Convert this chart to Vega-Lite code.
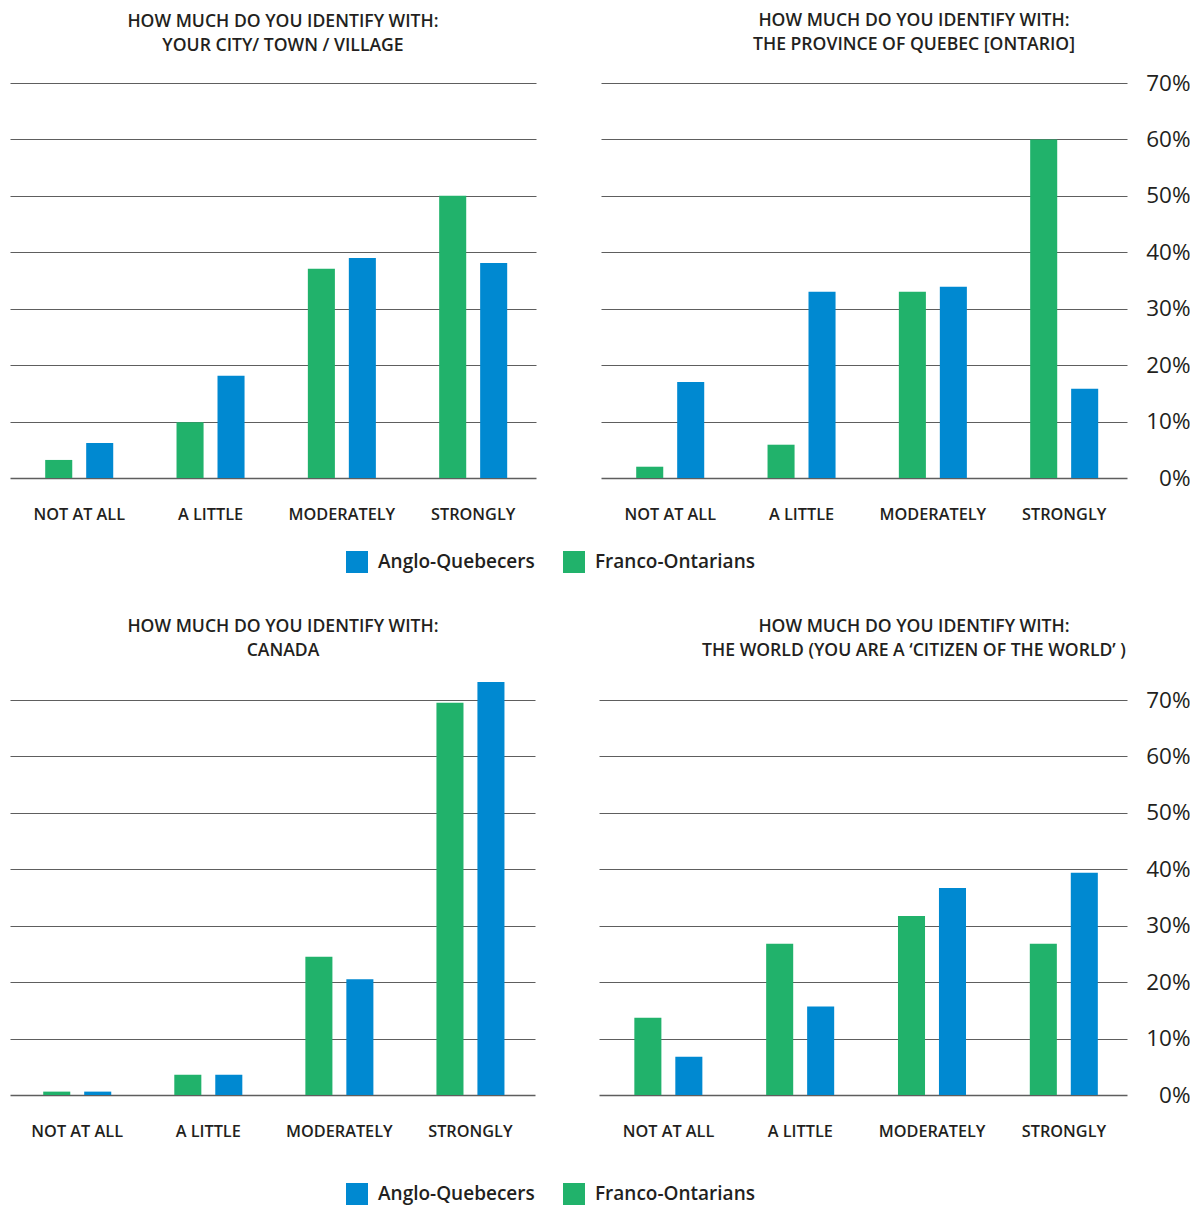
{
  "$schema": "https://vega.github.io/schema/vega-lite/v6.json",
  "background": "white",
  "padding": {"left": 10, "top": 11, "right": 0, "bottom": 0},
  "config": {
    "view": {"stroke": null},
    "font": "Open Sans",
    "title": {"font": "Open Sans", "fontWeight": 600, "fontSize": 17.6, "color": "#231f20", "lineHeight": 24.5, "anchor": "middle", "frame": "group"},
    "axisX": {"labelFont": "Open Sans", "labelFontWeight": 600, "labelFontSize": 16.3, "labelColor": "#231f20", "ticks": false, "domain": false, "labelPadding": 28, "labelAngle": 0, "title": null, "grid": false},
    "bar": {"stroke": null}
  },
  "datasets": {
    "d": [
      {"panel": "city", "level": "NOT AT ALL", "group": "Franco-Ontarians", "value": 3.2},
      {"panel": "city", "level": "NOT AT ALL", "group": "Anglo-Quebecers", "value": 6.2},
      {"panel": "city", "level": "A LITTLE", "group": "Franco-Ontarians", "value": 9.9},
      {"panel": "city", "level": "A LITTLE", "group": "Anglo-Quebecers", "value": 18.1},
      {"panel": "city", "level": "MODERATELY", "group": "Franco-Ontarians", "value": 37.1},
      {"panel": "city", "level": "MODERATELY", "group": "Anglo-Quebecers", "value": 39},
      {"panel": "city", "level": "STRONGLY", "group": "Franco-Ontarians", "value": 50},
      {"panel": "city", "level": "STRONGLY", "group": "Anglo-Quebecers", "value": 38.1},
      {"panel": "province", "level": "NOT AT ALL", "group": "Franco-Ontarians", "value": 2},
      {"panel": "province", "level": "NOT AT ALL", "group": "Anglo-Quebecers", "value": 17},
      {"panel": "province", "level": "A LITTLE", "group": "Franco-Ontarians", "value": 5.9},
      {"panel": "province", "level": "A LITTLE", "group": "Anglo-Quebecers", "value": 33},
      {"panel": "province", "level": "MODERATELY", "group": "Franco-Ontarians", "value": 33},
      {"panel": "province", "level": "MODERATELY", "group": "Anglo-Quebecers", "value": 33.9},
      {"panel": "province", "level": "STRONGLY", "group": "Franco-Ontarians", "value": 60},
      {"panel": "province", "level": "STRONGLY", "group": "Anglo-Quebecers", "value": 15.8},
      {"panel": "canada", "level": "NOT AT ALL", "group": "Franco-Ontarians", "value": 0.6},
      {"panel": "canada", "level": "NOT AT ALL", "group": "Anglo-Quebecers", "value": 0.6},
      {"panel": "canada", "level": "A LITTLE", "group": "Franco-Ontarians", "value": 3.6},
      {"panel": "canada", "level": "A LITTLE", "group": "Anglo-Quebecers", "value": 3.6},
      {"panel": "canada", "level": "MODERATELY", "group": "Franco-Ontarians", "value": 24.5},
      {"panel": "canada", "level": "MODERATELY", "group": "Anglo-Quebecers", "value": 20.5},
      {"panel": "canada", "level": "STRONGLY", "group": "Franco-Ontarians", "value": 69.5},
      {"panel": "canada", "level": "STRONGLY", "group": "Anglo-Quebecers", "value": 73.2},
      {"panel": "world", "level": "NOT AT ALL", "group": "Franco-Ontarians", "value": 13.7},
      {"panel": "world", "level": "NOT AT ALL", "group": "Anglo-Quebecers", "value": 6.8},
      {"panel": "world", "level": "A LITTLE", "group": "Franco-Ontarians", "value": 26.8},
      {"panel": "world", "level": "A LITTLE", "group": "Anglo-Quebecers", "value": 15.7},
      {"panel": "world", "level": "MODERATELY", "group": "Franco-Ontarians", "value": 31.7},
      {"panel": "world", "level": "MODERATELY", "group": "Anglo-Quebecers", "value": 36.7},
      {"panel": "world", "level": "STRONGLY", "group": "Franco-Ontarians", "value": 26.8},
      {"panel": "world", "level": "STRONGLY", "group": "Anglo-Quebecers", "value": 39.4}
    ]
  },
  "resolve": {"scale": {"color": "independent"}, "legend": {"color": "independent"}},
  "spacing": 44,
  "vconcat": [
    {
      "spacing": 65,
      "hconcat": [
        {
          "width": 526, "height": 395,
          "title": {"text": ["HOW MUCH DO YOU IDENTIFY WITH:", "YOUR CITY/ TOWN / VILLAGE"], "dx": 10, "offset": 28},
          "data": {"name": "d"},
          "transform": [{"filter": "datum.panel == 'city'"}],
          "mark": {"type": "bar"},
          "encoding": {
            "x": {"field": "level", "type": "nominal", "sort": ["NOT AT ALL", "A LITTLE", "MODERATELY", "STRONGLY"], "scale": {"paddingInner": 0.482, "paddingOuter": 0.2437, "align": 0.55}},
            "xOffset": {"field": "group", "sort": ["Franco-Ontarians", "Anglo-Quebecers"], "scale": {"paddingInner": 0.34, "paddingOuter": 0}},
            "y": {"field": "value", "type": "quantitative", "scale": {"domain": [0, 70], "nice": false}, "axis": {"orient": "left", "values": [0, 10, 20, 30, 40, 50, 60, 70], "grid": true, "gridColor": "#5e5e5e", "gridWidth": {"condition": {"test": "datum.value === 0", "value": 1.6}, "value": 1.2}, "labels": false, "ticks": false, "domain": false, "title": null}},
            "color": {"field": "group", "type": "nominal", "scale": {"domain": ["Anglo-Quebecers", "Franco-Ontarians"], "range": ["#0089d1", "#21b26b"]}, "legend": {"orient": "none", "legendX": 336, "legendY": 468, "direction": "horizontal", "title": null, "symbolType": "square", "symbolSize": 484, "symbolStrokeWidth": 0, "symbolOpacity": 1, "labelFont": "Open Sans", "labelFontWeight": 600, "labelFontSize": 19, "labelColor": "#231f20", "labelOffset": 10, "columnPadding": 28, "labelLimit": 300}}
          }
        },
        {
          "width": 526, "height": 395,
          "title": {"text": ["HOW MUCH DO YOU IDENTIFY WITH:", "THE PROVINCE OF QUEBEC [ONTARIO]"], "dx": 50, "offset": 18},
          "data": {"name": "d"},
          "transform": [{"filter": "datum.panel == 'province'"}],
          "mark": {"type": "bar"},
          "encoding": {
            "x": {"field": "level", "type": "nominal", "sort": ["NOT AT ALL", "A LITTLE", "MODERATELY", "STRONGLY"], "scale": {"paddingInner": 0.482, "paddingOuter": 0.2437, "align": 0.55}},
            "xOffset": {"field": "group", "sort": ["Franco-Ontarians", "Anglo-Quebecers"], "scale": {"paddingInner": 0.34, "paddingOuter": 0}},
            "y": {"field": "value", "type": "quantitative", "scale": {"domain": [0, 70], "nice": false}, "axis": {"orient": "right", "values": [0, 10, 20, 30, 40, 50, 60, 70], "grid": true, "gridColor": "#5e5e5e", "gridWidth": {"condition": {"test": "datum.value === 0", "value": 1.6}, "value": 1.2}, "labelExpr": "datum.value + '%'", "labelFont": "Open Sans", "labelFontSize": 22.5, "labelColor": "#231f20", "labelAlign": "right", "labelPadding": 63, "ticks": false, "domain": false, "title": null}},
            "color": {"field": "group", "type": "nominal", "scale": {"domain": ["Anglo-Quebecers", "Franco-Ontarians"], "range": ["#0089d1", "#21b26b"]}, "legend": {"orient": "none", "legendX": 336, "legendY": 468, "direction": "horizontal", "title": null, "symbolType": "square", "symbolSize": 484, "symbolStrokeWidth": 0, "symbolOpacity": 1, "labelFont": "Open Sans", "labelFontWeight": 600, "labelFontSize": 19, "labelColor": "#231f20", "labelOffset": 10, "columnPadding": 28, "labelLimit": 300}}
          }
        }
      ]
    },
    {
      "spacing": 64,
      "hconcat": [
        {
          "width": 525, "height": 395,
          "title": {"text": ["HOW MUCH DO YOU IDENTIFY WITH:", "CANADA"], "dx": 10.5, "offset": 22},
          "data": {"name": "d"},
          "transform": [{"filter": "datum.panel == 'canada'"}],
          "mark": {"type": "bar"},
          "encoding": {
            "x": {"field": "level", "type": "nominal", "sort": ["NOT AT ALL", "A LITTLE", "MODERATELY", "STRONGLY"], "scale": {"paddingInner": 0.482, "paddingOuter": 0.2437, "align": 0.52}},
            "xOffset": {"field": "group", "sort": ["Franco-Ontarians", "Anglo-Quebecers"], "scale": {"paddingInner": 0.34, "paddingOuter": 0}},
            "y": {"field": "value", "type": "quantitative", "scale": {"domain": [0, 70], "nice": false}, "axis": {"orient": "left", "values": [0, 10, 20, 30, 40, 50, 60, 70], "grid": true, "gridColor": "#5e5e5e", "gridWidth": {"condition": {"test": "datum.value === 0", "value": 1.6}, "value": 1.2}, "labels": false, "ticks": false, "domain": false, "title": null}},
            "color": {"field": "group", "type": "nominal", "scale": {"domain": ["Anglo-Quebecers", "Franco-Ontarians"], "range": ["#0089d1", "#21b26b"]}, "legend": {"orient": "none", "legendX": 336, "legendY": 483, "direction": "horizontal", "title": null, "symbolType": "square", "symbolSize": 484, "symbolStrokeWidth": 0, "symbolOpacity": 1, "labelFont": "Open Sans", "labelFontWeight": 600, "labelFontSize": 19, "labelColor": "#231f20", "labelOffset": 10, "columnPadding": 28, "labelLimit": 300}}
          }
        },
        {
          "width": 528, "height": 395,
          "title": {"text": ["HOW MUCH DO YOU IDENTIFY WITH:", "THE WORLD (YOU ARE A ‘CITIZEN OF THE WORLD’ )"], "dx": 51, "offset": 29},
          "data": {"name": "d"},
          "transform": [{"filter": "datum.panel == 'world'"}],
          "mark": {"type": "bar"},
          "encoding": {
            "x": {"field": "level", "type": "nominal", "sort": ["NOT AT ALL", "A LITTLE", "MODERATELY", "STRONGLY"], "scale": {"paddingInner": 0.482, "paddingOuter": 0.2437, "align": 0.55}},
            "xOffset": {"field": "group", "sort": ["Franco-Ontarians", "Anglo-Quebecers"], "scale": {"paddingInner": 0.34, "paddingOuter": 0}},
            "y": {"field": "value", "type": "quantitative", "scale": {"domain": [0, 70], "nice": false}, "axis": {"orient": "right", "values": [0, 10, 20, 30, 40, 50, 60, 70], "grid": true, "gridColor": "#5e5e5e", "gridWidth": {"condition": {"test": "datum.value === 0", "value": 1.6}, "value": 1.2}, "labelExpr": "datum.value + '%'", "labelFont": "Open Sans", "labelFontSize": 22.5, "labelColor": "#231f20", "labelAlign": "right", "labelPadding": 63, "ticks": false, "domain": false, "title": null}},
            "color": {"field": "group", "type": "nominal", "scale": {"domain": ["Anglo-Quebecers", "Franco-Ontarians"], "range": ["#0089d1", "#21b26b"]}, "legend": {"orient": "none", "legendX": 336, "legendY": 483, "direction": "horizontal", "title": null, "symbolType": "square", "symbolSize": 484, "symbolStrokeWidth": 0, "symbolOpacity": 1, "labelFont": "Open Sans", "labelFontWeight": 600, "labelFontSize": 19, "labelColor": "#231f20", "labelOffset": 10, "columnPadding": 28, "labelLimit": 300}}
          }
        }
      ]
    }
  ]
}
